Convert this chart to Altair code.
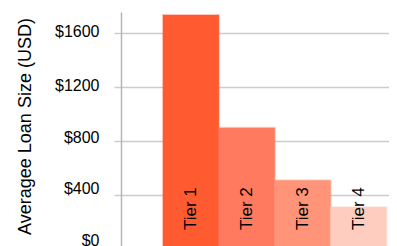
import altair as alt
import pandas as pd

tiers = ["Tier 1", "Tier 2", "Tier 3", "Tier 4"]
values = [1733, 898, 509, 311]
colors = ["#FF5A30", "#FF7A5E", "#FF9478", "#FFCDBF"]
y_ticks = [0, 400, 800, 1200, 1600]

df = pd.DataFrame({"tier": tiers, "value": values})

font = "Liberation Sans"

x_enc = alt.X("tier:N", sort=tiers, axis=None,
              scale=alt.Scale(paddingInner=0, paddingOuter=0.397, align=0.946))

y_axis = alt.Axis(
    values=y_ticks,
    format="$.0f",
    title="Averagee Loan Size (USD)",
    titleFont=font, titleFontSize=18, titleFontWeight="normal", titleColor="#000",
    titleAngle=270, titleBaseline="alphabetic", titleAlign="center",
    titleX=-91, titleY=114,
    labelFont=font, labelFontSize=16, labelColor="#000",
    labelPadding=15,
    labelOffset={"condition": [
        {"test": "datum.value == 0", "value": -9},
        {"test": "datum.value == 400", "value": -6},
        {"test": "datum.value == 800", "value": -3},
    ], "value": -1},
    domainColor="#b5b5b5", domainWidth=1.5,
    tickColor="#cccccc", tickWidth=1.5, tickSize=7,
    grid=True, gridColor="#cccccc", gridWidth=1.5,
)

y_enc = alt.Y("value:Q", axis=y_axis, scale=alt.Scale(domain=[0, 1755], nice=False))

bars = alt.Chart(df).mark_bar(strokeWidth=2, strokeOpacity=0.35).encode(
    x=x_enc,
    y=y_enc,
    color=alt.Color("tier:N", scale=alt.Scale(domain=tiers, range=colors), legend=None),
    stroke=alt.Color("tier:N", scale=alt.Scale(domain=tiers, range=colors), legend=None),
)

labels = alt.Chart(df).mark_text(
    angle=270, align="left", baseline="middle", dx=19,
    font=font, fontSize=17, color="#000",
).encode(
    x=x_enc,
    y=alt.datum(0),
    text="tier:N",
)

chart = (bars + labels).properties(
    width=268, height=237,
    autosize=alt.AutoSizeParams(type="none"),
    padding={"left": 113, "top": 4, "right": 0, "bottom": 0},
).configure_view(stroke=None)

chart.save("out.html", embed_options={"renderer": "svg", "actions": False})
